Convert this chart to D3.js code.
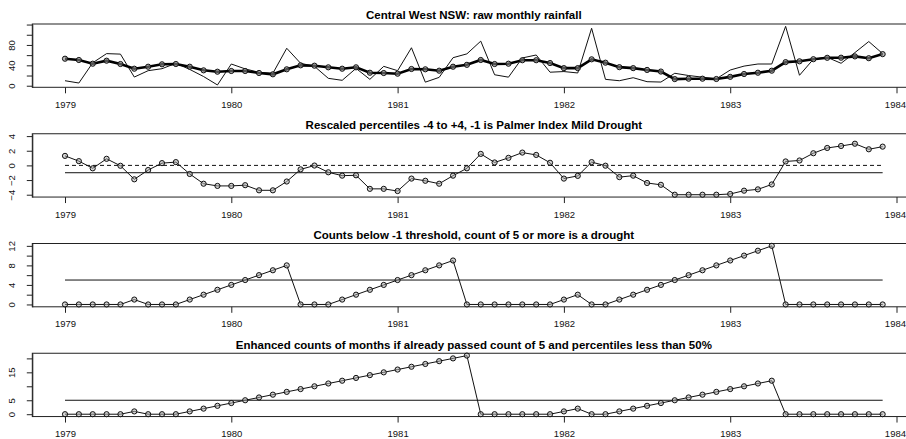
<!DOCTYPE html>
<html>
<head>
<meta charset="utf-8">
<script src="https://cdn.jsdelivr.net/npm/d3@7"></script>
<style>
  html, body { margin: 0; padding: 0; background: #fff; }
  svg { display: block; }
  text { font-family: "Liberation Sans", Arial, Helvetica, sans-serif; }
</style>
</head>
<body>
<svg id="chart" width="906" height="439"></svg>
<script>
// ---------- data ----------
const startYear = 1979;
const months = d3.range(60); // Jan 1979 .. Dec 1983

const rawRainfall = [9.8, 5.3, 45, 63, 62, 17, 29.5, 33.4, 44, 32, 18, 1.5,
  42.6, 33, 26.3, 24.4, 73.5, 44, 38, 14.5, 10.6, 34, 12.5, 38,
  29.5, 74.5, 7, 16.4, 55, 62.5, 87.5, 21.5, 16.8, 54.5, 60.3, 26.5,
  27.8, 25, 112.7, 12.5, 9.8, 15.7, 7.9, 7.2, 24.4, 20, 16.8, 13.5,
  30.8, 38.5, 42.6, 42.6, 116.5, 20.5, 52, 55.7, 44, 65, 86.7, 63];

const smoothRainfall = [53, 50.5, 43.2, 49.1, 42.6, 33.4, 37.3, 42, 42.6, 37.3, 30.2, 27.5,
  28.9, 28.9, 25, 22.4, 32.2, 40, 39.3, 36.1, 33.4, 36.1, 25.5, 24.9,
  23.6, 32.8, 32.2, 29.5, 37.3, 41, 50.5, 42.6, 43.2, 50, 50, 44.5,
  34.5, 34.5, 51.8, 45.2, 36.4, 34.5, 31, 27.8, 13, 13.8, 13.8, 13.2,
  17.4, 23, 25.5, 29.5, 46.3, 47.9, 52, 54.8, 55, 57.5, 54, 62];

const rescaled = [1.3, 0.58, -0.4, 0.9, -0.05, -1.9, -0.63, 0.31, 0.45, -1.17, -2.5, -2.8,
  -2.8, -2.7, -3.4, -3.4, -2.2, -0.54, -0.02, -0.94, -1.4, -1.35, -3.2, -3.2,
  -3.5, -1.8, -2.1, -2.5, -1.4, -0.4, 1.57, 0.4, 1.03, 1.75, 1.43, 0.36,
  -1.8, -1.43, 0.45, -0.04, -1.6, -1.4, -2.4, -2.65, -4, -4, -4, -4,
  -3.9, -3.45, -3.27, -2.6, 0.54, 0.67, 1.66, 2.38, 2.65, 2.96, 2.2, 2.56];

const counts = [0, 0, 0, 0, 0, 1, 0, 0, 0, 1, 2, 3,
  4, 5, 6, 7, 8, 0, 0, 0, 1, 2, 3, 4,
  5, 6, 7, 8, 9, 0, 0, 0, 0, 0, 0, 0,
  1, 2, 0, 0, 1, 2, 3, 4, 5, 6, 7, 8,
  9, 10, 11, 12, 0, 0, 0, 0, 0, 0, 0, 0];

const enhanced = [0, 0, 0, 0, 0, 1, 0, 0, 0, 1, 2, 3,
  4, 5, 6, 7, 8, 9, 10, 11, 12, 13, 14, 15,
  16, 17, 18, 19, 20, 21, 0, 0, 0, 0, 0, 0,
  1, 2, 0, 0, 1, 2, 3, 4, 5, 6, 7, 8,
  9, 10, 11, 12, 0, 0, 0, 0, 0, 0, 0, 0];

const xTickValues = [1979, 1980, 1981, 1982, 1983, 1984];

const titles = [
  "Central West NSW: raw monthly rainfall",
  "Rescaled percentiles -4 to +4, -1 is Palmer Index Mild Drought",
  "Counts below -1 threshold, count of 5 or more is a drought",
  "Enhanced counts of months if already passed count of 5 and percentiles less than 50%"
];

const yTicks = [
  { ticks: [0, 20, 40, 60, 80, 100, 120], labels: [0, 40, 80] },
  { ticks: [-4, -2, 0, 2, 4], labels: [-4, -2, 0, 2, 4] },
  { ticks: [0, 2, 4, 6, 8, 10, 12], labels: [0, 4, 8, 12] },
  { ticks: [0, 5, 10, 15, 20], labels: [0, 5, 15] }
];

const thresholds = [
  [],
  [{ v: 0, dash: "4,3" }, { v: -1, dash: null }],
  [{ v: 5, dash: null }],
  [{ v: 5, dash: null }]
];

// ---------- layout ----------
const svg = d3.select("#chart");
const W = 906;
const panelH = 109.75;
const boxLeft = 32.3, boxTop = 24, boxH = 63.3;
const dates = months.map(i => startYear + i / 12);

// R-style 4% axis extension
function rExtend(ext) {
  const r = ext[1] - ext[0];
  return [ext[0] - 0.04 * r, ext[1] + 0.04 * r];
}

const xDom = rExtend(d3.extent(dates));
const pxPerYear = 166.3;
const boxRight = boxLeft + (xDom[1] - xDom[0]) * pxPerYear;
const x = d3.scaleLinear().domain(xDom).range([boxLeft, boxRight]);

const panels = [
  { series: [rawRainfall, smoothRainfall], ylim: d3.extent(rawRainfall.concat(smoothRainfall)) },
  { series: [rescaled], ylim: [-4, 4] },
  { series: [counts], ylim: d3.extent(counts) },
  { series: [enhanced], ylim: d3.extent(enhanced) }
];

panels.forEach((p, k) => {
  const g = svg.append("g").attr("transform", `translate(0,${k * panelH})`);
  const y = d3.scaleLinear().domain(rExtend(p.ylim)).range([boxTop + boxH, boxTop]);

  // title
  g.append("text")
    .attr("x", (boxLeft + boxRight) / 2)
    .attr("y", 19.3)
    .attr("text-anchor", "middle")
    .attr("font-weight", "bold")
    .attr("font-size", 11.5)
    .text(titles[k]);

  // y axis
  const yt = yTicks[k];
  const yAxis = d3.axisLeft(y).tickValues(yt.ticks).tickSize(5.5).tickSizeOuter(0)
    .tickFormat(d => yt.labels.includes(d) ? d3.format("d")(d) : "");
  const ya = g.append("g").attr("transform", `translate(${boxLeft},0)`).call(yAxis);
  ya.select(".domain").attr("stroke", "#222");
  ya.selectAll(".tick line").attr("stroke", "#222");
  ya.selectAll(".tick text")
    .attr("transform", "rotate(-90)")
    .attr("x", 0).attr("y", -17).attr("dy", 0)
    .attr("text-anchor", "middle")
    .attr("font-size", 9.5).attr("fill", "#111")
    .style("font-family", "'Liberation Sans', Arial, sans-serif");

  // x axis
  const xAxis = d3.axisBottom(x).tickValues(xTickValues).tickSize(6).tickSizeOuter(0)
    .tickFormat(d3.format("d"));
  const xa = g.append("g").attr("transform", `translate(0,${boxTop + boxH})`).call(xAxis);
  xa.select(".domain").remove();
  xa.selectAll(".tick line").attr("stroke", "#222");
  xa.selectAll(".tick text")
    .attr("y", 20.5).attr("dy", 0)
    .attr("font-size", 9.5).attr("fill", "#111")
    .style("font-family", "'Liberation Sans', Arial, sans-serif")
    .each(function (d) {
      // keep labels inside the window edge
      const t = d3.select(this);
      const w = this.getComputedTextLength();
      const over = x(d) + w / 2 - (W - 0.5);
      if (over > 0) t.attr("x", -over);
    });

  // box
  g.append("rect")
    .attr("x", boxLeft).attr("y", boxTop)
    .attr("width", boxRight - boxLeft).attr("height", boxH)
    .attr("fill", "none").attr("stroke", "#222").attr("stroke-width", 1);

  // thresholds
  thresholds[k].forEach(t => {
    g.append("line")
      .attr("x1", x(dates[0])).attr("x2", x(dates[dates.length - 1]))
      .attr("y1", y(t.v)).attr("y2", y(t.v))
      .attr("stroke", "#111").attr("stroke-width", 1)
      .attr("stroke-dasharray", t.dash);
  });

  const line = d3.line().x((d, i) => x(dates[i])).y(d => y(d));

  if (k === 0) {
    g.append("path").datum(rawRainfall).attr("d", line)
      .attr("fill", "none").attr("stroke", "#111").attr("stroke-width", 1);
    g.append("path").datum(smoothRainfall).attr("d", line)
      .attr("fill", "none").attr("stroke", "#000").attr("stroke-width", 2.6);
    g.selectAll("circle.pt").data(smoothRainfall).enter().append("circle")
      .attr("cx", (d, i) => x(dates[i])).attr("cy", d => y(d)).attr("r", 2.6)
      .attr("fill", "#888").attr("fill-opacity", 0.6).attr("stroke", "#111").attr("stroke-width", 1);
  } else {
    const s = p.series[0];
    g.append("path").datum(s).attr("d", line)
      .attr("fill", "none").attr("stroke", "#111").attr("stroke-width", 1);
    g.selectAll("circle.pt").data(s).enter().append("circle")
      .attr("cx", (d, i) => x(dates[i])).attr("cy", d => y(d)).attr("r", 2.6)
      .attr("fill", "#aaa").attr("fill-opacity", 0.5).attr("stroke", "#111").attr("stroke-width", 1);
  }
});
</script>
</body>
</html>
